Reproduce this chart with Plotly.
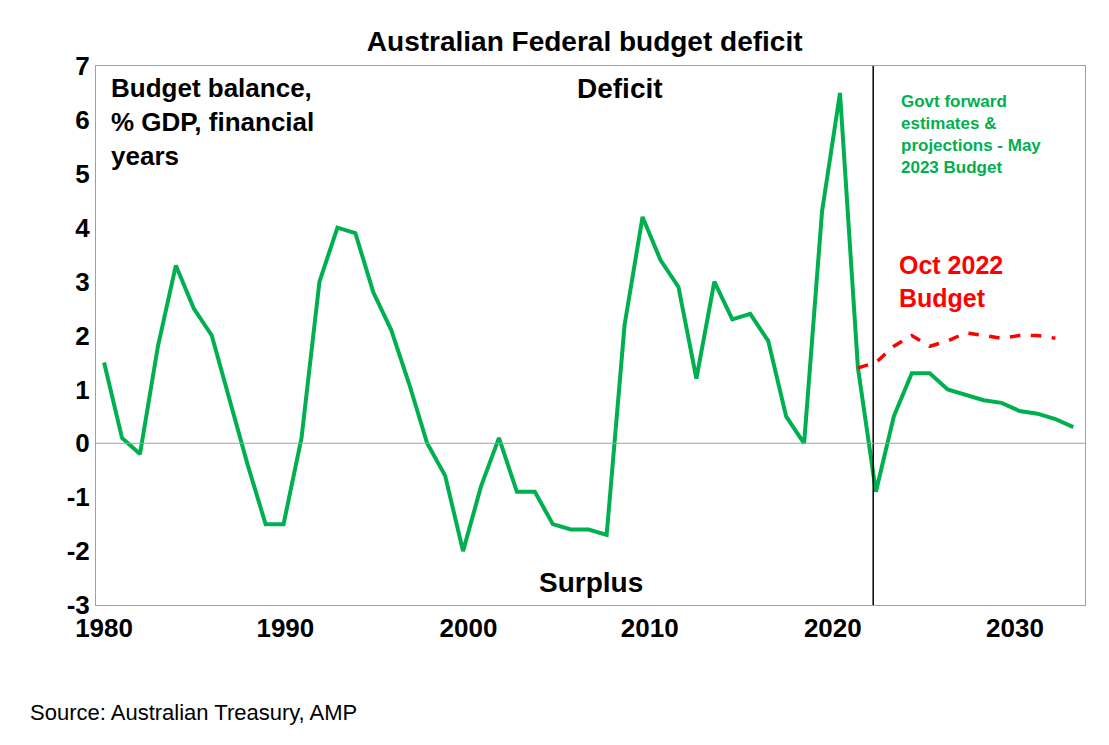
import plotly.graph_objects as go

years = list(range(1980, 2035))
deficit = [1.5, 0.1, -0.2, 1.8, 3.3, 2.5, 2.0, 0.8, -0.4, -1.5,
           -1.5, 0.1, 3.0, 4.0, 3.9, 2.8, 2.1, 1.1, 0.0, -0.6,
           -2.0, -0.8, 0.1, -0.9, -0.9, -1.5, -1.6, -1.6, -1.7, 2.2,
           4.2, 3.4, 2.9, 1.2, 3.0, 2.3, 2.4, 1.9, 0.5, 0.0,
           4.3, 6.5, 1.4, -0.9, 0.5, 1.3, 1.3, 1.0, 0.9, 0.8,
           0.75, 0.6, 0.55, 0.45, 0.3]
oct_years = list(range(2022, 2034))
oct2022 = [1.4, 1.5, 1.8, 2.0, 1.8, 1.9, 2.05, 2.0, 1.95, 2.0, 2.0, 1.95]
tick_pos = [1980, 1990.1, 2000.3, 2010.4, 2020.6, 2030.75]
tick_text = ["1980", "1990", "2000", "2010", "2020", "2030"]
y_ticks = [-3, -2, -1, 0, 1, 2, 3, 4, 5, 6, 7]
y_text = ["-3", "-2", "-1", "0", "1", "2", "3", "4", "5", "6", "7"]

fig = go.Figure()
fig.add_trace(go.Scatter(x=years, y=deficit, mode="lines",
                         line=dict(color="#00B050", width=4)))
fig.add_trace(go.Scatter(x=oct_years, y=oct2022, mode="lines",
                         line=dict(color="#FF0000", width=3.5, dash="dash")))
fig.add_shape(type="line", x0=2022.85, x1=2022.85, y0=-3, y1=7,
              line=dict(color="black", width=1.5))
fig.add_shape(type="line", x0=0, x1=1, xref="paper", y0=0, y1=0,
              line=dict(color="#A0A0A0", width=1))

FONT = "Liberation Sans, Arial"
def ann(x, y, text, size, color="black", xanchor="left", yanchor="top"):
    fig.add_annotation(x=x, y=y, xref="paper", yref="paper", text=f"<b>{text}</b>",
                       showarrow=False, align="left", xanchor=xanchor, yanchor=yanchor,
                       font=dict(family=FONT, size=size, color=color))

ann(0.013, 0.99, "Budget balance,<br>% GDP, financial<br>years", 26)
ann(0.53, 0.99, "Deficit", 28, xanchor="center")
ann(0.5, 0.01, "Surplus", 28, xanchor="center", yanchor="bottom")
ann(0.812, 0.955, "Govt forward<br>estimates &<br>projections - May<br>2023 Budget", 17, color="#00B050")
ann(0.81, 0.66, "Oct 2022<br>Budget", 25, color="#FF0000")

fig.update_layout(
    width=1109, height=745,
    margin=dict(l=88, r=32, t=58, b=148, autoexpand=False),
    paper_bgcolor="white", plot_bgcolor="white",
    showlegend=False,
    title=dict(text="<b>Australian Federal budget deficit</b>", x=0.52, xanchor="center",
               y=0.955, yanchor="middle", font=dict(family=FONT, size=28, color="black")),
    xaxis=dict(range=[1979.55, 2034.65], tickvals=tick_pos,
               ticktext=[f"<b>{t}</b>" for t in tick_text], automargin=False,
               showgrid=False, zeroline=False, showline=True, mirror=True, linecolor="#A0A0A0",
               tickfont=dict(family=FONT, size=26, color="black"), ticks=""),
    yaxis=dict(range=[-3, 7], tickvals=y_ticks, ticktext=[f"<b>{t}</b>" for t in y_text],
               automargin=False, showgrid=False, zeroline=False, showline=True, mirror=True,
               linecolor="#A0A0A0", ticks="",
               tickfont=dict(family=FONT, size=26, color="black")),
)
fig.add_annotation(x=-0.069, y=-0.2, xref="paper", yref="paper", xanchor="left", yanchor="middle",
                   text="Source: Australian Treasury, AMP", showarrow=False,
                   font=dict(family=FONT, size=22, color="black"))
fig.write_html("out.html")
